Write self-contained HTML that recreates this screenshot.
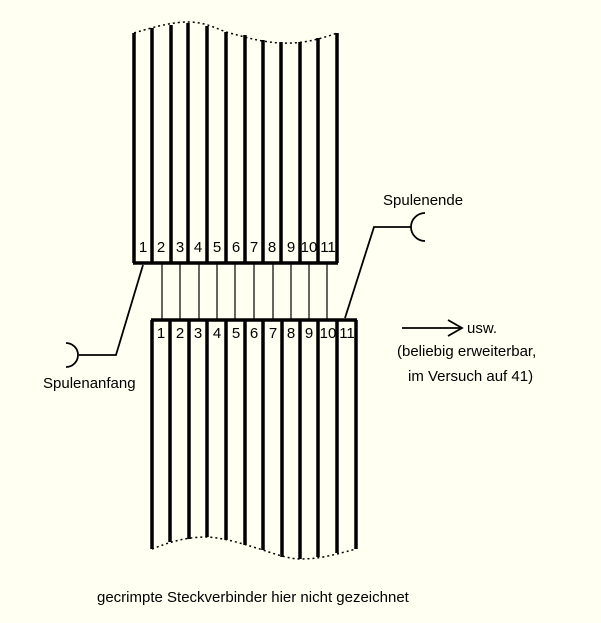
<!DOCTYPE html>
<html><head><meta charset="utf-8"><style>
html,body{margin:0;padding:0;background:#fffff2;}
svg{display:block;}
text{font-family:"Liberation Sans",Arial,sans-serif;font-size:15px;fill:#000;}
</style></head><body>
<svg width="601" height="623" viewBox="0 0 601 623" xmlns="http://www.w3.org/2000/svg">
<rect width="601" height="623" fill="#fffff2"/>
<g stroke="#000" stroke-width="3.5" fill="none">
<line x1="134" y1="33" x2="134" y2="263"/>
<line x1="152" y1="28" x2="152" y2="263"/>
<line x1="171" y1="25" x2="171" y2="263"/>
<line x1="188" y1="23" x2="188" y2="263"/>
<line x1="207" y1="26" x2="207" y2="263"/>
<line x1="226" y1="32" x2="226" y2="263"/>
<line x1="245" y1="35" x2="245" y2="263"/>
<line x1="263" y1="40" x2="263" y2="263"/>
<line x1="281" y1="42" x2="281" y2="263"/>
<line x1="300" y1="42" x2="300" y2="263"/>
<line x1="318" y1="38" x2="318" y2="263"/>
<line x1="337" y1="33" x2="337" y2="263"/>
<line x1="133" y1="263" x2="338" y2="263"/>
<line x1="152" y1="320" x2="152" y2="549"/>
<line x1="170" y1="320" x2="170" y2="542"/>
<line x1="189" y1="320" x2="189" y2="539"/>
<line x1="207" y1="320" x2="207" y2="537"/>
<line x1="226" y1="320" x2="226" y2="540"/>
<line x1="245" y1="320" x2="245" y2="545"/>
<line x1="263" y1="320" x2="263" y2="550"/>
<line x1="282" y1="320" x2="282" y2="557"/>
<line x1="300" y1="320" x2="300" y2="559"/>
<line x1="318" y1="320" x2="318" y2="557"/>
<line x1="337" y1="320" x2="337" y2="553"/>
<line x1="356" y1="320" x2="356" y2="549"/>
<line x1="151" y1="320" x2="357" y2="320"/>
</g>
<g stroke="#000" stroke-width="1.5" stroke-dasharray="2,3" fill="none">
<path d="M134,33 C160,25 175,22 188,22 C205,22 215,28 226,32 C245,37 260,42 281,43 C300,44 318,40 337,33"/>
<path d="M152,549 C170,542 185,537 207,537 C225,538 240,543 263,550 C280,556 292,559 300,559 C318,559 330,556 356,549"/>
</g>
<g stroke="#000" stroke-width="1.2" fill="none">
<line x1="162" y1="263" x2="162" y2="320"/>
<line x1="180" y1="263" x2="180" y2="320"/>
<line x1="199" y1="263" x2="199" y2="320"/>
<line x1="217" y1="263" x2="217" y2="320"/>
<line x1="235" y1="263" x2="235" y2="320"/>
<line x1="254" y1="263" x2="254" y2="320"/>
<line x1="273" y1="263" x2="273" y2="320"/>
<line x1="291" y1="263" x2="291" y2="320"/>
<line x1="309" y1="263" x2="309" y2="320"/>
<line x1="327" y1="263" x2="327" y2="320"/>
</g>
<g stroke="#000" stroke-width="1.8" fill="none">
<polyline points="345,318 374,227 411,227"/>
<path d="M425,213 A14,14 0 0 0 425,241"/>
<polyline points="143,265 116,355 79,355"/>
<path d="M66,343 A12,12 0 0 1 66,367"/>
<line x1="402" y1="328" x2="460" y2="328"/>
<polyline points="448,320 462,328 448,336"/>
</g>
<g text-anchor="middle">
<text x="143" y="252">1</text><text x="161" y="252">2</text><text x="180" y="252">3</text><text x="198" y="252">4</text><text x="217" y="252">5</text><text x="236" y="252">6</text><text x="254" y="252">7</text><text x="272" y="252">8</text><text x="291" y="252">9</text><text x="309" y="252">10</text><text x="328" y="252">11</text>
<text x="161" y="338">1</text><text x="180" y="338">2</text><text x="198" y="338">3</text><text x="217" y="338">4</text><text x="236" y="338">5</text><text x="254" y="338">6</text><text x="273" y="338">7</text><text x="291" y="338">8</text><text x="309" y="338">9</text><text x="328" y="338">10</text><text x="347" y="338">11</text>
</g>
<text x="383" y="205">Spulenende</text>
<text x="43" y="388">Spulenanfang</text>
<text x="467" y="333">usw.</text>
<text x="397" y="356">(beliebig erweiterbar,</text>
<text x="408" y="381">im Versuch auf 41)</text>
<text x="97" y="602">gecrimpte Steckverbinder hier nicht gezeichnet</text>
</svg>
</body></html>
